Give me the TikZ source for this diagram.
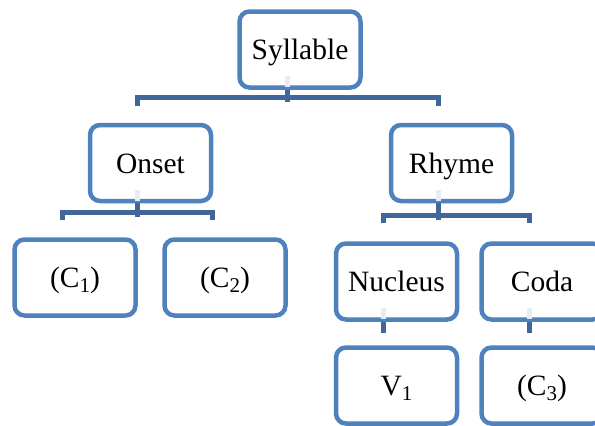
\documentclass[tikz,border=0pt]{standalone}
\usepackage{fontspec}
\setmainfont{Liberation Serif}
\definecolor{boxblue}{HTML}{4F81BD}
\definecolor{connblue}{HTML}{41679A}
\definecolor{palebg}{HTML}{E6ECF3}
\newcommand{\subdig}[1]{\raisebox{-5pt}{\fontsize{21}{21}\selectfont #1}}
\begin{document}
\begin{tikzpicture}[x=1pt,y=-1pt,
  box/.style={draw=boxblue, line width=4.5pt, rounded corners=10pt, fill=white,
    minimum width=121pt, minimum height=76pt, inner sep=0pt,
    text height=26pt, text depth=6pt,
    font=\fontsize{29.5}{32}\selectfont},
  conn/.style={draw=connblue, line width=5pt, line cap=butt, line join=miter},
  pale/.style={draw=palebg, line width=5pt}]
\useasboundingbox (0,0) rectangle (595,426);
\clip (0,0) rectangle (595,426);
% nodes
\node[box] (syl) at (300,49.5) {Syllable};
\node[box] (onset) at (150.5,163) {Onset};
\node[box] (rhyme) at (451.5,163) {Rhyme};
\node[box] (c1) at (75,277.5) {(C\subdig{1})};
\node[box] (c2) at (225,277.5) {(C\subdig{2})};
\node[box] (nucleus) at (396.5,281.5) {Nucleus};
\node[box] (coda) at (542,281.5) {Coda};
\node[box] (v1) at (396.5,385.5) {V\subdig{1}};
\node[box] (c3) at (542,385.5) {(C\subdig{3})};
% pale stubs inside boxes
\foreach \n in {syl,onset,rhyme,nucleus,coda}
  \draw[pale] ([shift={(-13,-2.3)}]\n.south) -- ++(0,-11);
% brackets
\draw[conn] ([xshift=-13pt]syl.south) -- ++(0,12);
\draw[conn] ([shift={(-13,-17)}]onset.north) |- ([shift={(-13,-25)}]rhyme.north) -- ([shift={(-13,-17)}]rhyme.north);
\draw[conn] ([xshift=-13pt]onset.south) -- ++(0,14);
\draw[conn] ([shift={(-13,-17)}]c1.north) |- ([shift={(-13,-25)}]c2.north) -- ([shift={(-13,-17)}]c2.north);
\draw[conn] ([xshift=-13pt]rhyme.south) -- ++(0,17);
\draw[conn] ([shift={(-13,-18)}]nucleus.north) |- ([shift={(-13,-26)}]coda.north) -- ([shift={(-13,-18)}]coda.north);
\draw[conn] ([xshift=-13pt]nucleus.south) -- ++(0,11);
\draw[conn] ([xshift=-13pt]coda.south) -- ++(0,11);
\end{tikzpicture}
\end{document}
